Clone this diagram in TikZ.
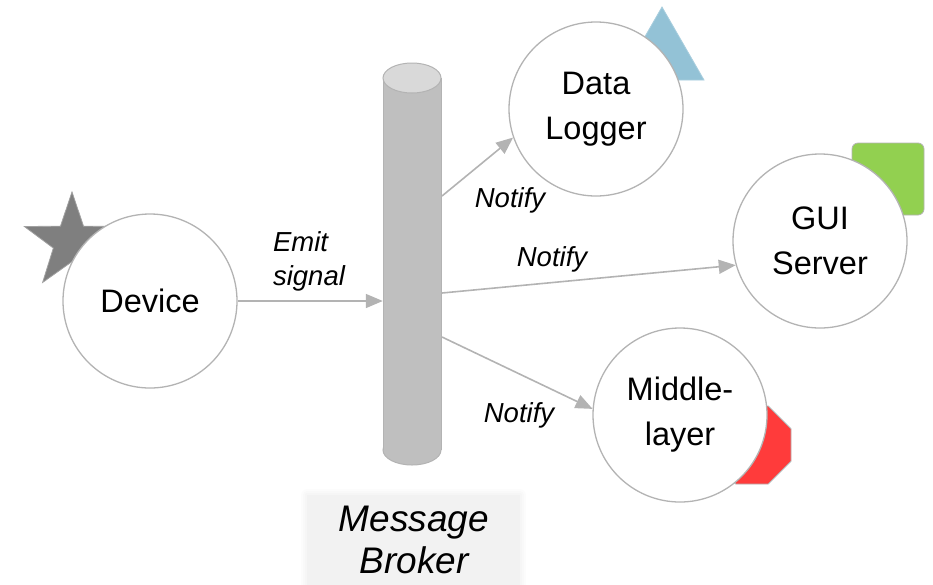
\documentclass[tikz,border=0pt]{standalone}
\usepackage{fontspec}
\setmainfont{Liberation Sans}
\usetikzlibrary{arrows.meta,shapes.geometric}
\definecolor{edge}{HTML}{B3B3B3}
\definecolor{cylbody}{HTML}{BFBFBF}
\definecolor{cyltop}{HTML}{D9D9D9}
\definecolor{starc}{HTML}{7F7F7F}
\definecolor{tric}{HTML}{93C2D6}
\definecolor{greenc}{HTML}{92D050}
\definecolor{redc}{HTML}{FF3B3B}
\definecolor{boxc}{HTML}{F2F2F2}
\tikzset{
  actor/.style={circle, draw=edge, line width=1.3pt, fill=white, minimum size=174pt, inner sep=0pt, align=center, font=\fontsize{32.5}{45}\selectfont},
  lbl/.style={font=\fontsize{27.5}{34}\selectfont\itshape, inner sep=0pt, align=left},
  arr/.style={draw=edge, line width=1.6pt, -{Triangle[length=17pt,width=14pt]}},
  deco/.style={draw=edge!80, line width=0.8pt}
}
\begin{document}
\begin{tikzpicture}[x=1pt,y=-1pt]
\useasboundingbox (0,0) rectangle (933,584);
% decorations behind circles
\node[star, star points=5, star point ratio=2.55, minimum size=100pt, inner sep=0pt, fill=starc, draw=edge!90!black, line width=0.8pt] (starshape) at (72,242) {};
\fill[tric, draw=tric!80!white, line width=0.8pt] (662,7) -- (704,80) -- (620,80) -- cycle;
\filldraw[fill=greenc, draw=edge, line width=0.8pt, rounded corners=6pt] (852,143) rectangle (924,215);
\filldraw[fill=redc, draw=edge, line width=0.8pt] (735.8,406) -- (768.2,406) -- (791,428.8) -- (791,461.2) -- (768.2,484) -- (735.8,484) -- (713,461.2) -- (713,428.8) -- cycle;
% cylinder (message broker)
\filldraw[fill=cylbody, draw=edge, line width=1pt] (412,450) ellipse (29 and 15);
\fill[cylbody] (383,78) rectangle (441,450);
\draw[edge, line width=1pt] (383,78) -- (383,450);
\draw[edge, line width=1pt] (441,78) -- (441,450);
\filldraw[fill=cyltop, draw=edge, line width=1pt] (412,78) ellipse (29 and 15);
\node[inner sep=0pt, minimum width=58pt, minimum height=402pt] (mb) at (412,264) {};
% actors
\node[actor] (dev) at (150,301) {Device};
\node[actor] (dl) at (596,109) {Data\\Logger};
\node[actor] (gui) at (820,241) {GUI\\Server};
\node[actor] (ml) at (680,415) {Middle-\\layer};
% connector start points on the broker
\coordinate (o1) at (442,196);
\coordinate (o2) at (442,293);
\coordinate (o3) at (442,337);
% connectors
\draw[arr] (dev.east) -- (dev.east -| mb.west);
\draw[arr] (o1) -- (dl.199);
\draw[arr] (o2) -- (gui.196);
\draw[arr] (o3) -- (ml.176);
% labels
\node[lbl] (lemit) at (309,261) {Emit\\signal};
\node[lbl] (ln1) at (510,200) {Notify};
\node[lbl] (ln2) at (552,259) {Notify};
\node[lbl] (ln3) at (519,415) {Notify};
% broker caption box
\foreach \d in {6,4,2}
  \fill[black, opacity=0.012, rounded corners=\d pt] (307-\d,495-\d) rectangle (520+\d,590);
\fill[boxc] (307,495) rectangle (520,590);
\node[font=\fontsize{37}{42}\selectfont\itshape, align=center, inner sep=0pt] (cap) at (414,540) {Message\\Broker};
\end{tikzpicture}
\end{document}
